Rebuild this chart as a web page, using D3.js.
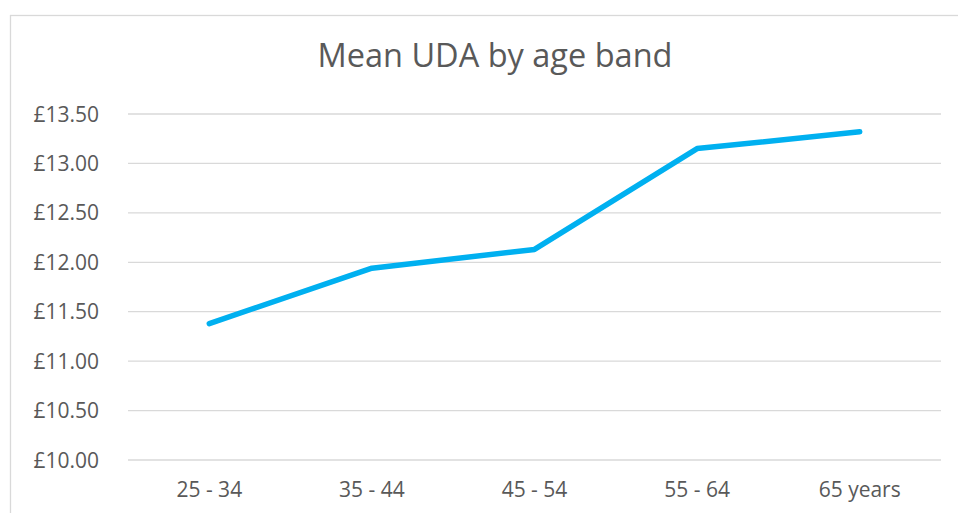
<!DOCTYPE html>
<html>
<head>
<meta charset="utf-8">
<script src="https://cdn.jsdelivr.net/npm/d3@7"></script>
<style>
  html, body { margin: 0; padding: 0; background: #fff; }
  svg { display: block; }
  text { font-family: "Open Sans", sans-serif; fill: #595959; }
</style>
</head>
<body>
<svg id="chart" width="958" height="513"></svg>
<script>
// Mean UDA value per dentist age band
const categories = ["25 - 34", "35 - 44", "45 - 54", "55 - 64", "65 years"];
const meanUda = [11.38, 11.94, 12.13, 13.15, 13.32];
const yTicks = [10.0, 10.5, 11.0, 11.5, 12.0, 12.5, 13.0, 13.5];
const title = "Mean UDA by age band";

const svg = d3.select("#chart");
const W = 958, H = 513;
const plot = { left: 128, right: 941, top: 114, bottom: 460 };

// outer chart frame (cropped on right and bottom)
svg.append("rect")
  .attr("x", 10.5).attr("y", 15.5)
  .attr("width", W + 20).attr("height", H + 20)
  .attr("fill", "#fff").attr("stroke", "#d9d9d9").attr("stroke-width", 1.3);

const x = d3.scaleBand().domain(categories).range([plot.left, plot.right]);
const y = d3.scaleLinear().domain([10, 13.5]).range([plot.bottom, plot.top]);

// horizontal gridlines
svg.append("g").selectAll("line").data(yTicks).join("line")
  .attr("x1", plot.left).attr("x2", plot.right)
  .attr("y1", d => y(d)).attr("y2", d => y(d))
  .attr("stroke", "#d9d9d9").attr("stroke-width", 1.3);

// y axis labels
const fmt = d => "£" + d3.format(".2f")(d);
svg.append("g").selectAll("text").data(yTicks).join("text")
  .attr("x", 99).attr("y", d => y(d)).attr("dy", "0.36em")
  .attr("text-anchor", "end").attr("font-size", 21)
  .text(fmt);

// x axis labels
svg.append("g").selectAll("text").data(categories).join("text")
  .attr("x", d => x(d) + x.bandwidth() / 2).attr("y", 497)
  .attr("text-anchor", "middle").attr("font-size", 21)
  .text(d => d);

// title
svg.append("text")
  .attr("x", 495).attr("y", 67)
  .attr("text-anchor", "middle").attr("font-size", 32.5)
  .text(title);

// data line
const line = d3.line()
  .x((d, i) => x(categories[i]) + x.bandwidth() / 2)
  .y(d => y(d));
svg.append("path").datum(meanUda)
  .attr("d", line)
  .attr("fill", "none").attr("stroke", "#00b0f0")
  .attr("stroke-width", 5.5)
  .attr("stroke-linecap", "round").attr("stroke-linejoin", "round");
</script>
</body>
</html>
